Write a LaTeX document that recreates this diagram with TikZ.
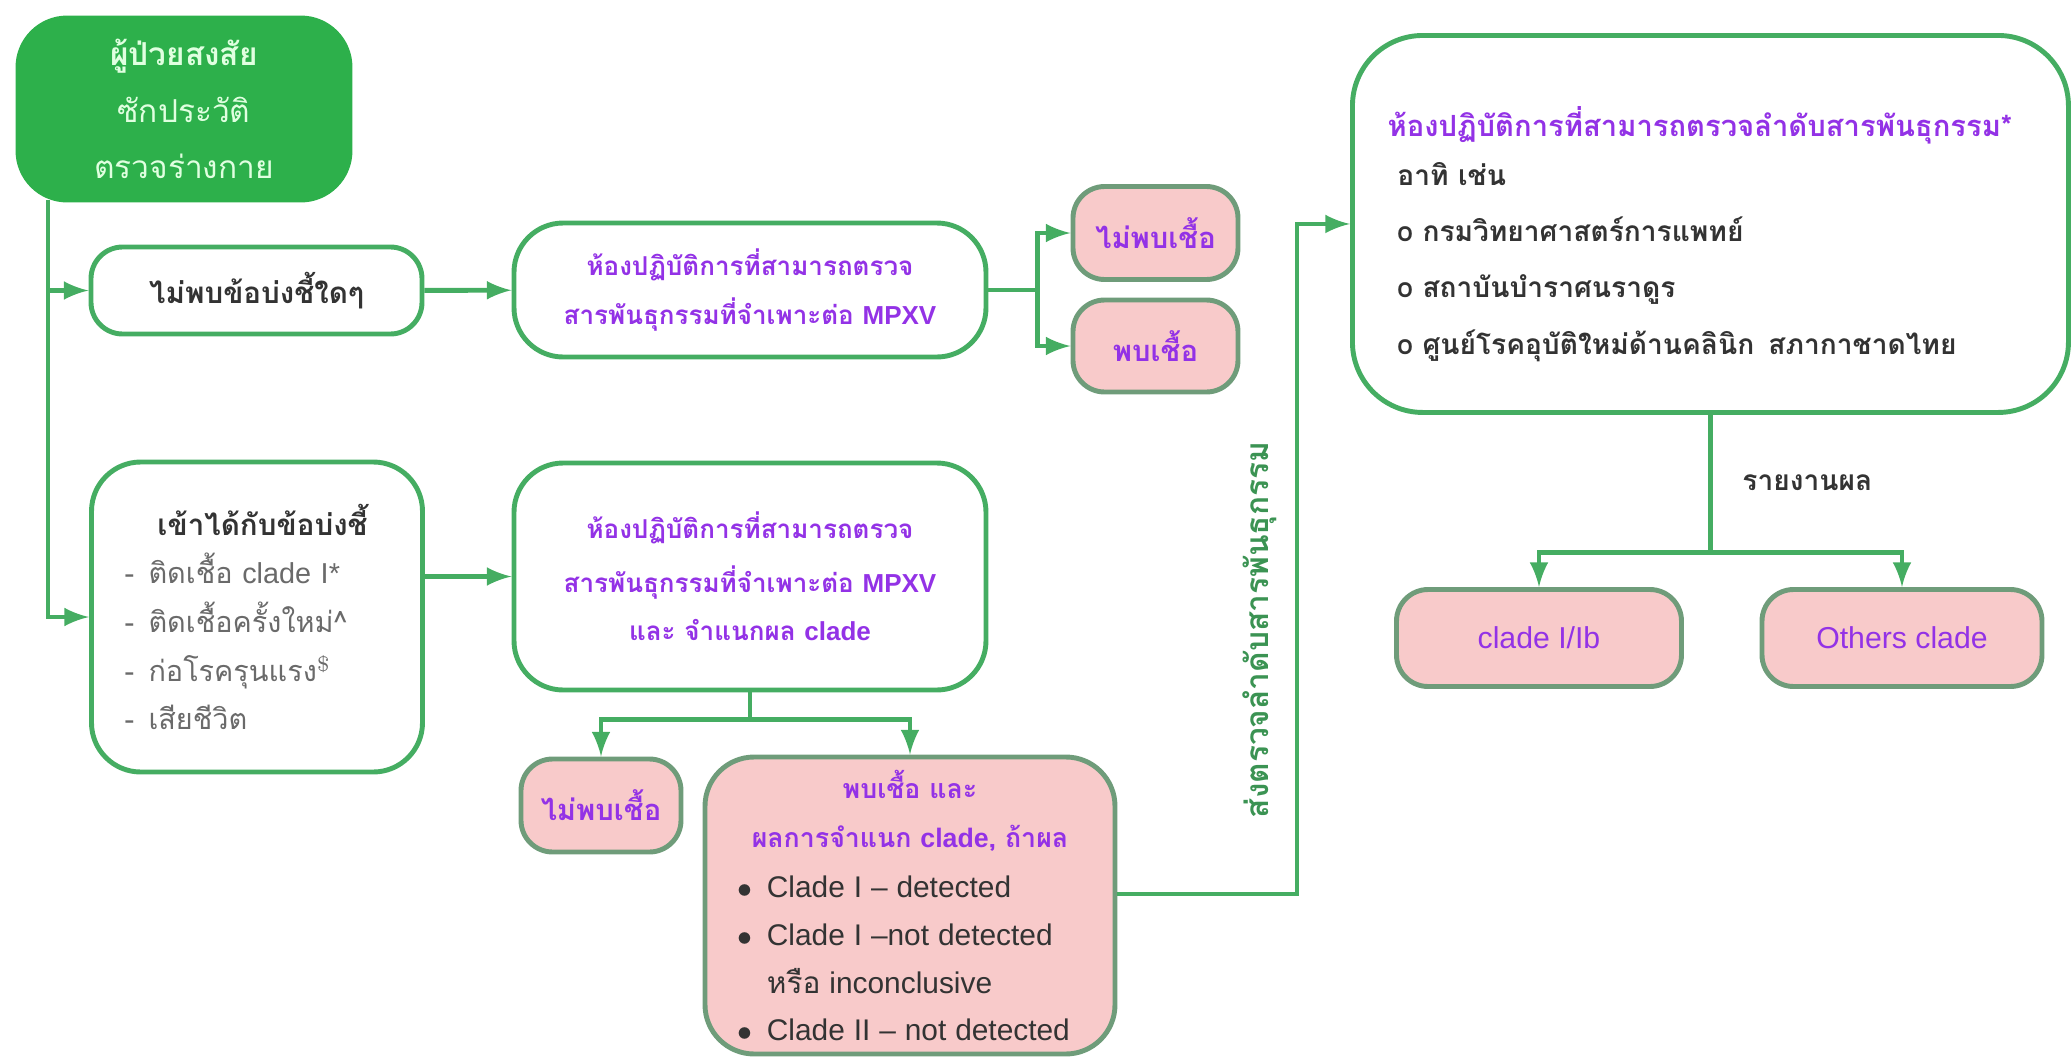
\documentclass[tikz,border=0pt]{standalone}
\usepackage{fontspec}
\newfontfamily\thai[Script=Thai]{Loma}
\newfontfamily\en{Liberation Sans}
\usetikzlibrary{arrows, positioning, calc}

\definecolor{leaf}{HTML}{2DB04B}
\definecolor{line}{HTML}{45AD62}
\definecolor{edge}{HTML}{6F9C7A}
\definecolor{rose}{HTML}{F8CACA}
\definecolor{violet}{HTML}{9332E6}
\definecolor{ink}{HTML}{333333}
\definecolor{dim}{HTML}{6A6A6A}

\newcommand{\fs}[1]{\fontsize{#1}{1.2\dimexpr#1\relax}\selectfont}

\tikzset{
    card/.style={draw=line, line width=1.4pt, rounded corners=14pt, fill=white, align=center, inner sep=0pt},
    pink/.style={draw=edge, line width=1.4pt, rounded corners=9pt, fill=rose, align=center, inner sep=0pt, text=violet, font=\thai\bfseries\fs{8.3pt}},
    flow/.style={draw=line, line width=1.4pt, ->, >=latex}
}

\begin{document}
\begin{tikzpicture}[font=\thai\small]
    \useasboundingbox (0, 0) rectangle (20.71, -10.59);

    \node[card, fill=leaf, draw=leaf, minimum width=3.32cm, minimum height=1.82cm, text=green!12, font=\thai\small] (suspect) at (1.84, -1.09) {\textbf{ผู้ป่วยสงสัย}\\[5pt]ซักประวัติ\\[5pt]ตรวจร่างกาย};

    \node[card, rounded corners=9pt, minimum width=3.31cm, minimum height=0.87cm, text=ink, font=\thai\bfseries\fs{8.4pt}] (none) at (2.565, -2.905) {ไม่พบข้อบ่งชี้ใดๆ};
    \node[card, minimum width=4.72cm, minimum height=1.34cm, text=violet, font=\thai\bfseries\fs{7.4pt}] (labA) at (7.5, -2.9) {ห้องปฏิบัติการที่สามารถตรวจ\\[4pt]สารพันธุกรรมที่จำเพาะต่อ {\en MPXV}};
    \node[pink, minimum width=1.65cm, minimum height=0.93cm] (negA) at (11.555, -2.33) {ไม่พบเชื้อ};
    \node[pink, minimum width=1.65cm, minimum height=0.92cm] (posA) at (11.555, -3.46) {พบเชื้อ};

    \node[card, minimum width=3.31cm, minimum height=3.1cm, text width=2.65cm, inner xsep=0.33cm, text=dim, align=left, font=\thai\fs{8.2pt}] (match) at (2.57, -6.17) {\hspace*{0.33cm}\textcolor{ink}{\bfseries\fs{8.4pt}เข้าได้กับข้อบ่งชี้}\\[4pt]
        -\enspace ติดเชื้อ {\en clade I*}\\[4pt]
        -\enspace ติดเชื้อครั้งใหม่\textasciicircum\\[4pt]
        -\enspace ก่อโรครุนแรง$^{\$}$\\[4pt]
        -\enspace เสียชีวิต};
    \node[card, minimum width=4.72cm, minimum height=2.27cm, text=violet, font=\thai\bfseries\fs{7.4pt}] (labB) at (7.5, -5.765) {ห้องปฏิบัติการที่สามารถตรวจ\\[5pt]สารพันธุกรรมที่จำเพาะต่อ {\en MPXV}\\[5pt]และ จำแนกผล {\en clade}};
    \node[pink, minimum width=1.6cm, minimum height=0.93cm] (negB) at (6.01, -8.055) {ไม่พบเชื้อ};
    \node[pink, rounded corners=14pt, minimum width=4.1cm, minimum height=2.97cm, text width=3.46cm, inner xsep=0.32cm, align=left, font=\thai\bfseries\fs{7.6pt}] (posB) at (9.1, -9.055) {\makebox[3.46cm]{พบเชื้อ และ}\\[5pt]
        \makebox[3.46cm]{ผลการจำแนก {\en clade}, ถ้าผล}\\[5pt]
        \mbox{\mdseries\fs{8.5pt}\color{ink}$\bullet$\enspace{\en Clade I – detected}}\\[4.5pt]
        \mbox{\mdseries\fs{8.5pt}\color{ink}$\bullet$\enspace{\en Clade I –not detected}}\\[4.5pt]
        \mbox{\mdseries\fs{8.5pt}\color{ink}\phantom{$\bullet$}\enspace หรือ {\en inconclusive}}\\[4.5pt]
        \mbox{\mdseries\fs{8.5pt}\color{ink}$\bullet$\enspace{\en Clade II – not detected}}};

    \node[card, rounded corners=20pt, minimum width=7.16cm, minimum height=3.77cm, anchor=north west] (seq) at (13.5, -0.33) {};
    \node[text=violet, font=\thai\bfseries\fs{8.3pt}] (seqtitle) at (17.0, -1.25) {ห้องปฏิบัติการที่สามารถตรวจลำดับสารพันธุกรรม*};
    \node[text=ink, font=\thai\bfseries\footnotesize, align=left, anchor=north west] (seqlist) at (13.85, -1.5) {อาทิ เช่น\\[6.5pt]
        o กรมวิทยาศาสตร์การแพทย์\\[6.5pt]
        o สถาบันบำราศนราดูร\\[6.5pt]
        o ศูนย์โรคอุบัติใหม่ด้านคลินิก\enspace สภากาชาดไทย};

    \node[pink, minimum width=2.85cm, minimum height=0.97cm, font=\en\fs{8.6pt}] (cladeA) at (15.39, -6.38) {clade I/Ib};
    \node[pink, minimum width=2.8cm, minimum height=0.97cm, font=\en\fs{8.6pt}] (cladeB) at (19.02, -6.38) {Others clade};

    % trunk from the suspect box
    \coordinate (trunk) at (0.48, -2.0);
    \draw[flow] (trunk) |- (none.west);
    \draw[flow] (trunk) |- (match.west);
    \draw[flow] (none) -- (labA);
    \draw[flow] (labA.east) -- ++(0.49, 0) |- (negA.west);
    \draw[flow] (labA.east) -- ++(0.49, 0) |- (posA.west);
    \draw[flow] (match.east |- labB.west) -- (labB.west);
    \coordinate (splitB) at ($(labB.south)+(0,-0.27)$);
    \draw[draw=line, line width=1.4pt] (labB.south) -- (splitB);
    \draw[flow] (splitB) -| (negB.north);
    \draw[flow] (splitB) -| (posB.north);
    % send for sequencing
    \coordinate (riser) at (12.97, -8.94);
    \draw[flow] (posB.east |- riser) -- (riser) |- (seq.west);
    \node[rotate=90, text=line!85!black, font=\thai\bfseries\small] (sendlabel) at (12.6, -6.3) {ส่งตรวจลำดับสารพันธุกรรม};
    % report
    \coordinate (splitC) at ($(seq.south)+(0,-1.38)$);
    \draw[draw=line, line width=1.4pt] (seq.south) -- (splitC);
    \node[text=ink, font=\thai\bfseries\footnotesize, anchor=west] (report) at (17.3, -4.83) {รายงานผล};
    \draw[flow] (splitC) -| (cladeA.north);
    \draw[flow] (splitC) -| (cladeB.north);
\end{tikzpicture}
\end{document}
